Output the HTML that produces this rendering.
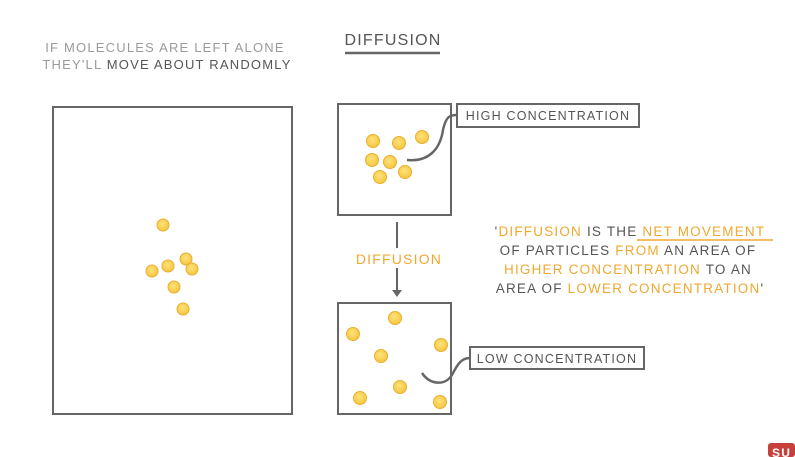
<!DOCTYPE html>
<html><head><meta charset="utf-8"><style>
html,body{margin:0;padding:0;background:#fff;}
svg{display:block;}
text{font-family:"Liberation Sans",sans-serif;letter-spacing:1.2px;}
</style></head><body>
<svg width="795" height="457" viewBox="0 0 795 457" xmlns="http://www.w3.org/2000/svg">
<defs>
<radialGradient id="g" cx="45%" cy="40%" r="60%"><stop offset="0" stop-color="#fde27a"/><stop offset="1" stop-color="#f6c640"/></radialGradient>
</defs>
<rect width="795" height="457" fill="#fff"/>
<text x="165" y="52" font-size="13" fill="#9a9a9a" text-anchor="middle">IF MOLECULES ARE LEFT ALONE</text>
<text x="167" y="69" font-size="13" fill="#9a9a9a" text-anchor="middle">THEY'LL <tspan fill="#555">MOVE ABOUT RANDOMLY</tspan></text>
<text x="393" y="45" font-size="16" fill="#555" text-anchor="middle">DIFFUSION</text>
<line x1="345" y1="53" x2="440" y2="53" stroke="#666" stroke-width="2.5"/>
<g fill="none" stroke="#666" stroke-width="2">
<rect x="53" y="107" width="239" height="307"/>
<rect x="338" y="104" width="113" height="111"/>
<rect x="338" y="303" width="113" height="111"/>
<rect x="457" y="104" width="182" height="23"/>
<rect x="470" y="347" width="174" height="22"/>
<path d="M407 160 C428 162 440 150 443 130 C446 116 450 115 457 115" stroke-width="2.5"/>
<path d="M422 373 C430 385 445 386 452 375 C458 363 462 358 470 358" stroke-width="2.5"/>
<line x1="397" y1="222" x2="397" y2="292"/>
</g>
<path d="M392 290 L402 290 L397 297 Z" fill="#666"/>
<rect x="355" y="248" width="88" height="20" fill="#fff"/>
<text x="399" y="264" font-size="14" fill="#f0a830" text-anchor="middle">DIFFUSION</text>
<text x="548" y="120" font-size="12.5" fill="#555" text-anchor="middle">HIGH CONCENTRATION</text>
<text x="557" y="363" font-size="12.5" fill="#555" text-anchor="middle">LOW CONCENTRATION</text>
<g fill="url(#g)" stroke="#e8b030" stroke-width="1">
<circle cx="163" cy="225" r="6"/><circle cx="152" cy="271" r="6"/><circle cx="168" cy="266" r="6"/><circle cx="186" cy="259" r="6"/><circle cx="192" cy="269" r="6"/><circle cx="174" cy="287" r="6"/><circle cx="183" cy="309" r="6"/>
<circle cx="373" cy="141" r="6.5"/><circle cx="399" cy="143" r="6.5"/><circle cx="422" cy="137" r="6.5"/><circle cx="372" cy="160" r="6.5"/><circle cx="390" cy="162" r="6.5"/><circle cx="405" cy="172" r="6.5"/><circle cx="380" cy="177" r="6.5"/>
<circle cx="353" cy="334" r="6.5"/><circle cx="395" cy="318" r="6.5"/><circle cx="441" cy="345" r="6.5"/><circle cx="381" cy="356" r="6.5"/><circle cx="400" cy="387" r="6.5"/><circle cx="360" cy="398" r="6.5"/><circle cx="440" cy="402" r="6.5"/>
</g>
<g font-size="13.5" text-anchor="middle" fill="#555">
<text x="630" y="236"><tspan>'</tspan><tspan fill="#f0a830">DIFFUSION</tspan> IS THE <tspan fill="#f0a830">NET MOVEMENT</tspan></text>
<text x="628" y="255">OF PARTICLES <tspan fill="#f0a830">FROM</tspan> AN AREA OF</text>
<text x="628" y="274"><tspan fill="#f0a830">HIGHER CONCENTRATION</tspan> TO AN</text>
<text x="630" y="293">AREA OF <tspan fill="#f0a830">LOWER CONCENTRATION</tspan>'</text>
</g>
<line x1="637" y1="240" x2="773" y2="240" stroke="#f0a830" stroke-width="1.5"/>
<rect x="768" y="443" width="27" height="14" rx="3" fill="#c8403c"/>
<text x="772" y="457" font-size="12" fill="#fff" font-weight="bold">SU</text>
</svg>
</body></html>
